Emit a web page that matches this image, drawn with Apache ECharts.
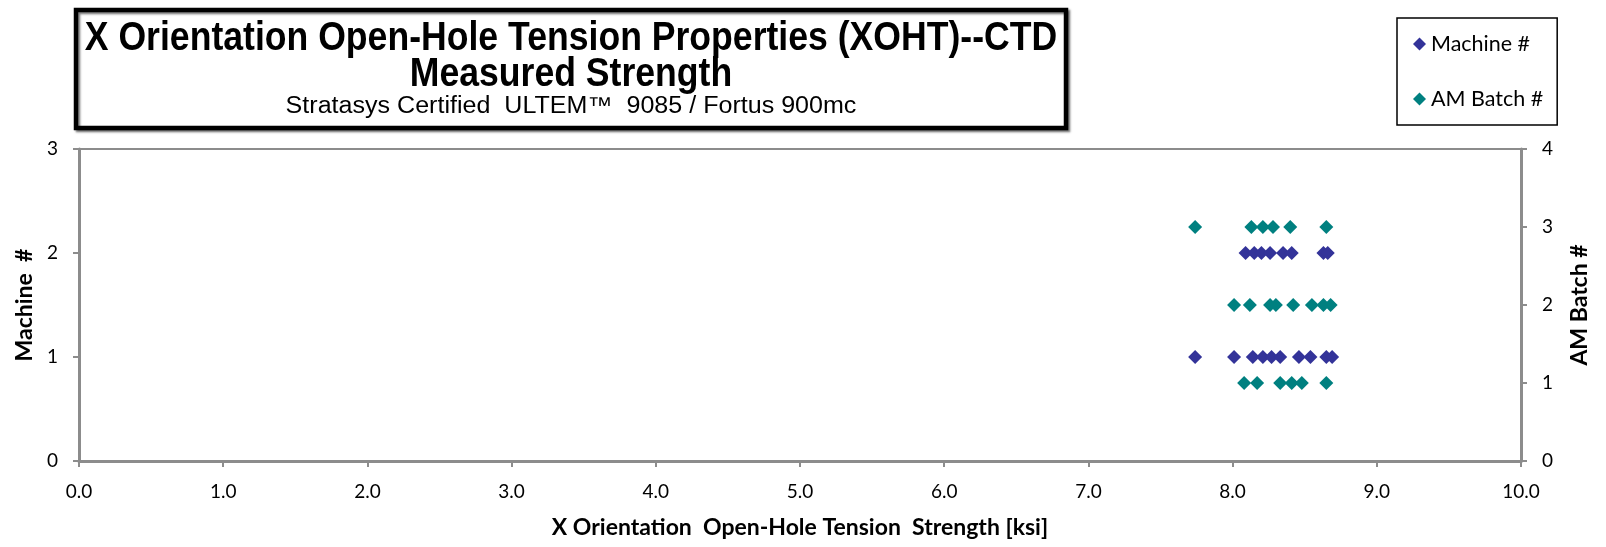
<!DOCTYPE html>
<html>
<head>
<meta charset="utf-8">
<script src="https://cdn.jsdelivr.net/npm/echarts@6/dist/echarts.min.js"></script>
<style>html,body{margin:0;padding:0;background:#fff}#c{width:1606px;height:547px}</style>
</head>
<body>
<div id="c"></div>
<script>
// Machine # series (strength in ksi, machine number)
const machineStrength = [7.74, 8.01, 8.14, 8.21, 8.27, 8.33, 8.46, 8.54, 8.65, 8.69,
                         8.09, 8.15, 8.20, 8.26, 8.35, 8.41, 8.63, 8.66];
const machineNum      = [1, 1, 1, 1, 1, 1, 1, 1, 1, 1,
                         2, 2, 2, 2, 2, 2, 2, 2];
// AM Batch # series (strength in ksi, batch number)
const batchStrength = [8.08, 8.17, 8.33, 8.41, 8.48, 8.65,
                       8.01, 8.12, 8.26, 8.30, 8.42, 8.55, 8.63, 8.68,
                       7.74, 8.13, 8.21, 8.28, 8.40, 8.65];
const batchNum      = [1, 1, 1, 1, 1, 1,
                       2, 2, 2, 2, 2, 2, 2, 2,
                       3, 3, 3, 3, 3, 3];
const xTicks = [0, 10, 1];
const leftTicks = [0, 3, 1];
const rightTicks = [0, 4, 1];

const titleLines = [
  'X Orientation Open-Hole Tension Properties (XOHT)--CTD',
  'Measured Strength',
  'Stratasys Certified  ULTEM\u2122  9085 / Fortus 900mc'
];
const seriesNames = ['Machine #', 'AM Batch #'];
const axisNames = ['Machine  #', 'AM Batch #'];
const xName = 'X Orientation  Open-Hole Tension  Strength [ksi]';

const axisGray = '#8c8c8c';
const lblFont = 'Lato, "Open Sans", sans-serif';
const ttlFont = '"Liberation Sans Narrow","Liberation Sans",Arial,sans-serif';

const chart = echarts.init(document.getElementById('c'));
const pair = (xs, ys) => xs.map((v, i) => [v, ys[i]]);

chart.setOption({
  animation: false,
  backgroundColor: '#fff',
  graphic: [
    { type: 'rect', z: 0, shape: { x: 76, y: 10, width: 990, height: 118 },
      style: { fill: '#fff', stroke: '#000', lineWidth: 4.5, shadowColor: 'rgba(0,0,0,0.5)', shadowOffsetX: 2, shadowOffsetY: 2, shadowBlur: 2 } },
    { type: 'text', z: 1, x: 571, y: 39, scaleX: 0.89,
      style: { text: titleLines[0], textAlign: 'center', textVerticalAlign: 'middle', fill: '#000',
               font: 'bold 40px ' + ttlFont } },
    { type: 'text', z: 1, x: 571, y: 75, scaleX: 0.89,
      style: { text: titleLines[1], textAlign: 'center', textVerticalAlign: 'middle', fill: '#000',
               font: 'bold 40px ' + ttlFont } },
    { type: 'text', z: 1, x: 571, y: 107, scaleX: 1.09,
      style: { text: titleLines[2], textAlign: 'center', textVerticalAlign: 'middle', fill: '#000',
               font: 'normal 23px ' + ttlFont } }
  ],
  legend: {
    orient: 'vertical',
    left: 1397, top: 18,
    padding: [15, 14, 15, 16],
    itemGap: 33,
    itemWidth: 13, itemHeight: 13,
    borderColor: '#000', borderWidth: 1.5,
    textStyle: { fontFamily: lblFont, fontSize: 21.5, color: '#000' },
    data: [{ name: seriesNames[0], icon: 'diamond' }, { name: seriesNames[1], icon: 'diamond' }]
  },
  grid: { left: 79, right: 85, top: 149, bottom: 86, show: true, borderColor: axisGray, borderWidth: 2, containLabel: false },
  xAxis: {
    type: 'value', min: xTicks[0], max: xTicks[1], interval: xTicks[2],
    name: xName, nameLocation: 'middle', nameGap: 55,
    nameTextStyle: { fontFamily: lblFont, fontWeight: 'bold', fontSize: 23, color: '#000' },
    axisLine: { show: true, onZero: false, lineStyle: { color: axisGray, width: 3 } },
    axisTick: { show: true, inside: false, length: 6, lineStyle: { color: axisGray, width: 2 } },
    axisLabel: { margin: 21, fontFamily: lblFont, fontSize: 19, color: '#000', formatter: v => v.toFixed(1) },
    splitLine: { show: false }
  },
  yAxis: [
    {
      type: 'value', position: 'left', min: leftTicks[0], max: leftTicks[1], interval: leftTicks[2],
      name: axisNames[0], nameLocation: 'middle', nameGap: 43, nameRotate: 90,
      nameTextStyle: { fontFamily: lblFont, fontWeight: 'bold', fontSize: 23, color: '#000' },
      axisLine: { show: true, onZero: false, lineStyle: { color: axisGray, width: 3 } },
      axisTick: { show: true, inside: false, length: 6, lineStyle: { color: axisGray, width: 2 } },
      axisLabel: { margin: 21, fontFamily: lblFont, fontSize: 19, color: '#000' },
      splitLine: { show: false }
    },
    {
      type: 'value', position: 'right', min: rightTicks[0], max: rightTicks[1], interval: rightTicks[2],
      name: axisNames[1], nameLocation: 'middle', nameGap: 47, nameRotate: 90,
      nameTextStyle: { fontFamily: lblFont, fontWeight: 'bold', fontSize: 23, color: '#000' },
      axisLine: { show: true, onZero: false, lineStyle: { color: axisGray, width: 3 } },
      axisTick: { show: true, inside: false, length: 6, lineStyle: { color: axisGray, width: 2 } },
      axisLabel: { margin: 21, fontFamily: lblFont, fontSize: 19, color: '#000' },
      splitLine: { show: false }
    }
  ],
  series: [
    { name: seriesNames[0], type: 'scatter', yAxisIndex: 0, symbol: 'diamond', symbolSize: 14,
      itemStyle: { color: '#333399', opacity: 1 }, data: pair(machineStrength, machineNum) },
    { name: seriesNames[1], type: 'scatter', yAxisIndex: 1, symbol: 'diamond', symbolSize: 14,
      itemStyle: { color: '#008080', opacity: 1 }, data: pair(batchStrength, batchNum) }
  ]
});
</script>
</body>
</html>
